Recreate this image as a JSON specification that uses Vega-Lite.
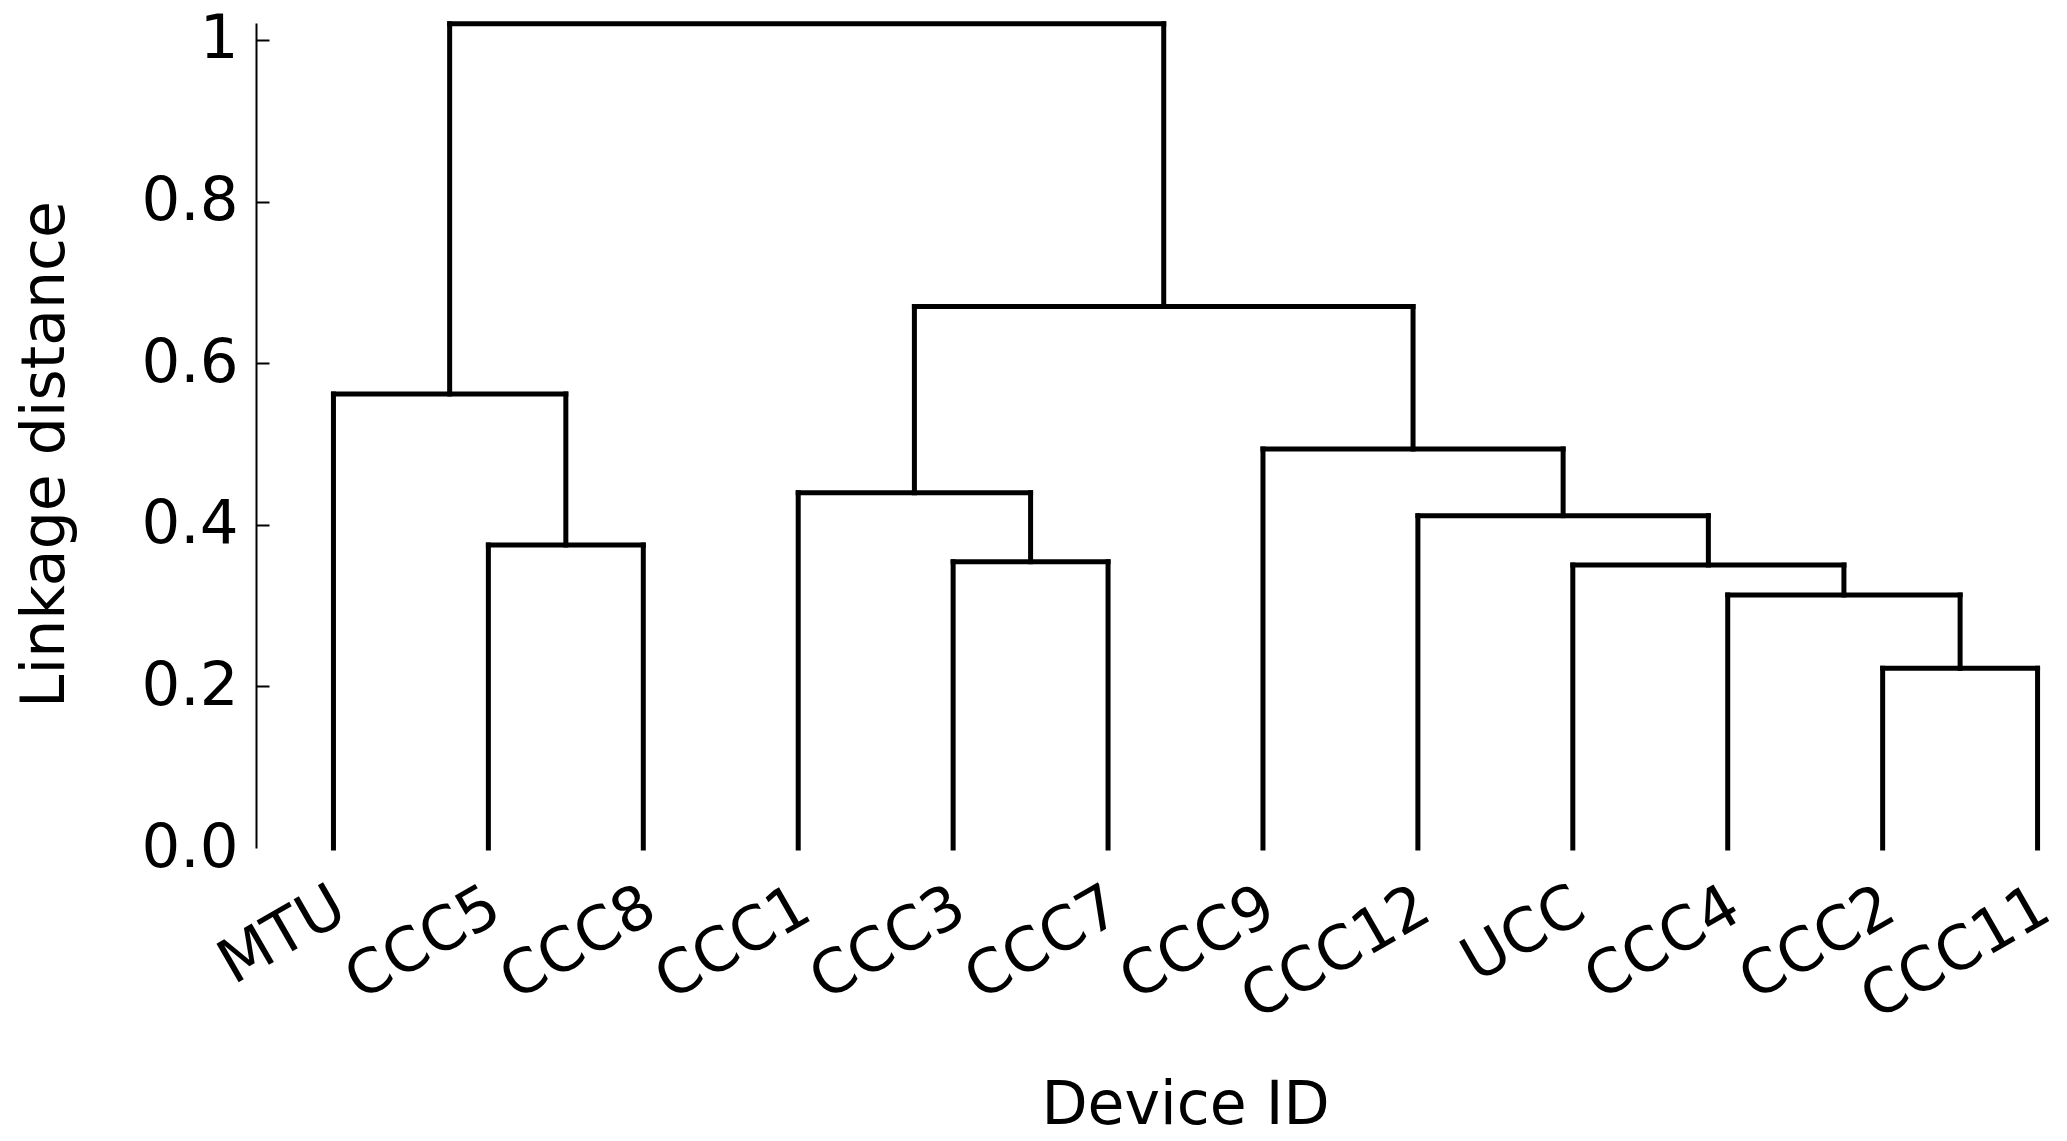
{
  "$schema": "https://vega.github.io/schema/vega-lite/v6.json",
  "autosize": {"type": "none"},
  "padding": {"left": 256, "top": 23, "right": 0, "bottom": 293},
  "width": 1811,
  "height": 825,
  "background": "white",
  "config": {
    "view": {"stroke": null},
    "font": "DejaVu Sans"
  },
  "data": {
    "values": [
      {"xl": 105, "yl": 0, "xr": 115, "yr": 0, "h": 0.2223},
      {"xl": 95, "yl": 0, "xr": 110, "yr": 0.2223, "h": 0.3131},
      {"xl": 85, "yl": 0, "xr": 102.5, "yr": 0.3131, "h": 0.3502},
      {"xl": 75, "yl": 0, "xr": 93.75, "yr": 0.3502, "h": 0.4113},
      {"xl": 65, "yl": 0, "xr": 84.375, "yr": 0.4113, "h": 0.4938},
      {"xl": 45, "yl": 0, "xr": 55, "yr": 0, "h": 0.3543},
      {"xl": 35, "yl": 0, "xr": 50, "yr": 0.3543, "h": 0.4397},
      {"xl": 42.5, "yl": 0.4397, "xr": 74.6875, "yr": 0.4938, "h": 0.670},
      {"xl": 15, "yl": 0, "xr": 25, "yr": 0, "h": 0.375},
      {"xl": 5, "yl": 0, "xr": 20, "yr": 0.375, "h": 0.5619},
      {"xl": 12.5, "yl": 0.5619, "xr": 58.59375, "yr": 0.670, "h": 1.0202}
    ]
  },
  "layer": [
    {
      "mark": {"type": "rule", "color": "black", "strokeWidth": 5, "strokeCap": "square"},
      "encoding": {
        "x": {
          "field": "xl", "type": "quantitative",
          "scale": {"domain": [0, 116.9], "nice": false, "zero": false},
          "axis": {
            "orient": "bottom",
            "values": [5, 15, 25, 35, 45, 55, 65, 75, 85, 95, 105, 115],
            "labelExpr": "['MTU','CCC5','CCC8','CCC1','CCC3','CCC7','CCC9','CCC12','UCC','CCC4','CCC2','CCC11'][round((datum.value-5)/10)]",
            "labelAngle": -30,
            "labelAlign": "right",
            "labelBaseline": "top",
            "labelFontSize": 61,
            "labelColor": "black",
            "labelLimit": 0,
            "labelFlush": false,
            "labelOverlap": false,
            "labelBound": false,
            "labelPadding": 40,
            "labelOffset": -8,
            "domain": false,
            "grid": false,
            "ticks": true,
            "tickColor": "white",
            "tickSize": -12,
            "tickWidth": 1.5,
            "title": "Device ID",
            "titleFontSize": 60,
            "titleFontWeight": "normal",
            "titleColor": "black",
            "titleX": 929,
            "titleY": 275,
            "titleAlign": "center",
            "titleBaseline": "alphabetic"
          }
        },
        "y": {
          "field": "yl", "type": "quantitative",
          "scale": {"domain": [0, 1.021], "nice": false, "zero": false},
          "axis": {
            "values": [0, 0.2, 0.4, 0.6, 0.8, 1],
            "labelExpr": "datum.value == 1 ? '1' : format(datum.value, '.1f')",
            "labelFontSize": 61,
            "labelColor": "black",
            "labelFlush": false,
            "labelOverlap": false,
            "labelBound": false,
            "labelPadding": 31,
            "domainColor": "black",
            "domainWidth": 2,
            "grid": false,
            "tickColor": "black",
            "tickSize": -13,
            "tickWidth": 2,
            "tickOpacity": {"condition": {"test": "datum.value == 0", "value": 0}, "value": 1},
            "title": "Linkage distance",
            "titleFontSize": 60,
            "titleFontWeight": "normal",
            "titleColor": "black",
            "titleAngle": 270,
            "titleX": -193,
            "titleY": 431,
            "titleAlign": "center",
            "titleBaseline": "alphabetic"
          }
        },
        "y2": {"field": "h"}
      }
    },
    {
      "mark": {"type": "rule", "color": "black", "strokeWidth": 5, "strokeCap": "square"},
      "encoding": {
        "x": {"field": "xr", "type": "quantitative"},
        "y": {"field": "yr", "type": "quantitative"},
        "y2": {"field": "h"}
      }
    },
    {
      "mark": {"type": "rule", "color": "black", "strokeWidth": 5, "strokeCap": "square"},
      "encoding": {
        "x": {"field": "xl", "type": "quantitative"},
        "x2": {"field": "xr"},
        "y": {"field": "h", "type": "quantitative"}
      }
    }
  ]
}
